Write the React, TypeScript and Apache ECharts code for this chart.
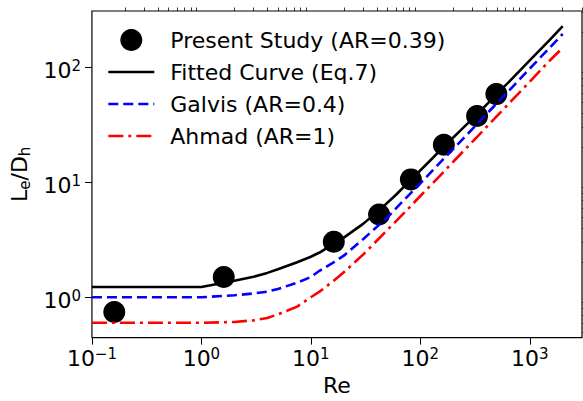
import { useEffect, useRef } from 'react';
import * as echarts from 'echarts';

// Measured entrance lengths (Present Study)
const presentRe = [0.16, 1.6, 16.2, 42, 82, 164, 330, 495];
const presentLe = [0.745, 1.5, 3.04, 5.24, 10.6, 21.2, 37.8, 58.5];

// Fitted curve (Eq.7)
const fittedRe = [0.1, 1, 1.6, 2, 3, 4, 5, 7.5, 10, 12, 16, 20, 30, 42, 60, 82, 120, 164, 250, 330, 495, 700, 1000, 1500, 2000];
const fittedLe = [1.23, 1.23, 1.34, 1.39, 1.51, 1.63, 1.75, 2.02, 2.25, 2.45, 2.9, 3.3, 4.35, 5.7, 7.8, 10.5, 15.1, 20.4, 30.2, 39, 57.8, 81, 115, 171, 228];

// Galvis correlation (AR=0.4)
const galvisRe = [0.1, 1, 2, 3, 4, 5, 7.5, 10, 12, 16, 20, 30, 50, 75, 100, 150, 200, 300, 500, 700, 1000, 1500, 2000];
const galvisLe = [1.0, 1.0, 1.04, 1.08, 1.12, 1.18, 1.34, 1.5, 1.7, 2.0, 2.3, 3.2, 4.95, 7.4, 9.8, 14.7, 19.5, 29.2, 48.7, 68, 97.5, 146, 195];

// Ahmad correlation (AR=1)
const ahmadRe = [0.1, 1, 2, 3, 4, 5, 7.5, 10, 12, 16, 20, 30, 50, 75, 100, 150, 200, 300, 500, 700, 1000, 1500, 2000];
const ahmadLe = [0.6, 0.6, 0.61, 0.63, 0.66, 0.71, 0.83, 1.0, 1.12, 1.38, 1.65, 2.35, 3.85, 5.7, 7.6, 11.3, 15.1, 22.6, 37.6, 52.6, 75, 113, 148];

// Axis ticks
const xMajorTicks = [0.1, 1, 10, 100, 1000];
const xTickExponents = ['\u22121', '0', '1', '2', '3'];
const yMajorTicks = [1, 10, 100];
const yTickExponents = ['0', '1', '2'];
const xMinorTicks = [
  0.2, 0.3, 0.4, 0.5, 0.6, 0.7, 0.8, 0.9,
  2, 3, 4, 5, 6, 7, 8, 9,
  20, 30, 40, 50, 60, 70, 80, 90,
  200, 300, 400, 500, 600, 700, 800, 900,
  2000, 3000,
];
const yMinorTicks = [
  0.5, 0.6, 0.7, 0.8, 0.9,
  2, 3, 4, 5, 6, 7, 8, 9,
  20, 30, 40, 50, 60, 70, 80, 90,
  200, 300,
];

const X_MIN = 0.1;
const X_MAX = 3000;
const Y_MIN = 0.446;
const Y_MAX = 309;

const FONT = 'DejaVu Sans';
const LINE_WIDTH = 2.6;

const zip = (xs: number[], ys: number[]) => xs.map((x, i) => [x, ys[i]]);

const powerLabel = (ticks: number[], exps: string[]) => (value: number) => {
  const i = ticks.findIndex((t) => Math.abs(Math.log10(t) - Math.log10(value)) < 1e-6);
  return i >= 0 ? `{b|10}{s|${exps[i]}}` : '';
};

// "10" with a raised exponent
const xTickRich = {
  b: { fontSize: 22, color: '#000', fontFamily: FONT },
  s: { fontSize: 15, color: '#000', fontFamily: FONT, padding: [0, 0, 8, 0] },
};
const yTickRich = {
  b: { fontSize: 22, color: '#000', fontFamily: FONT, padding: [6, 0, 0, 0] },
  s: { fontSize: 15, color: '#000', fontFamily: FONT, padding: [0, 0, 2, 0] },
};

// Legend rows: the curves show only their line sample, no marker
const lineLegendItem = (name: string) => ({
  name,
  itemStyle: { opacity: 0 },
  lineStyle: { width: LINE_WIDTH },
});

export default function App() {
  const ref = useRef<HTMLDivElement>(null);

  useEffect(() => {
    if (!ref.current) return;
    const chart = echarts.init(ref.current, undefined, { renderer: 'svg' });

    const minorAxisCommon = {
      type: 'log' as const,
      logBase: 10,
      axisLine: { show: false },
      axisLabel: { show: false },
      splitLine: { show: false },
    };

    chart.setOption({
      animation: false,
      backgroundColor: '#fff',
      textStyle: { fontFamily: FONT },
      grid: {
        left: 88,
        right: 1,
        top: 11,
        bottom: 58,
        show: true,
        borderColor: '#000',
        borderWidth: 1.2,
        backgroundColor: 'transparent',
      },
      legend: {
        orient: 'vertical',
        left: 102,
        top: 24,
        itemWidth: 46,
        itemHeight: 22,
        itemGap: 10,
        lineStyle: { width: LINE_WIDTH },
        data: [
          'Present Study (AR=0.39)',
          lineLegendItem('Fitted Curve (Eq.7)'),
          lineLegendItem('Galvis (AR=0.4)'),
          lineLegendItem('Ahmad (AR=1)'),
        ],
        textStyle: { fontSize: 22, color: '#000', fontFamily: FONT, padding: [0, 0, 0, 11] },
      },
      xAxis: [
        {
          type: 'log',
          logBase: 10,
          min: X_MIN,
          max: X_MAX,
          name: 'Re',
          nameLocation: 'middle',
          nameGap: 31,
          nameTextStyle: { fontSize: 22, color: '#000', fontFamily: FONT },
          axisLine: { show: false },
          axisTick: {
            show: true,
            inside: false,
            length: 7,
            lineStyle: { color: '#000', width: 1 },
            customValues: xMajorTicks,
          },
          axisLabel: {
            customValues: xMajorTicks,
            margin: 9,
            formatter: powerLabel(xMajorTicks, xTickExponents),
            rich: xTickRich,
          },
          splitLine: { show: false },
        },
        {
          ...minorAxisCommon,
          min: X_MIN,
          max: X_MAX,
          axisTick: {
            show: true,
            inside: false,
            length: 3.5,
            lineStyle: { color: '#000', width: 0.8 },
            customValues: xMinorTicks,
          },
        },
      ],
      yAxis: [
        {
          type: 'log',
          logBase: 10,
          min: Y_MIN,
          max: Y_MAX,
          name: '{n|L}{s|e}{n|/D}{s|h}',
          nameLocation: 'middle',
          nameGap: 52,
          nameRotate: 90,
          nameTextStyle: {
            rich: {
              n: { fontSize: 22, color: '#000', fontFamily: FONT },
              s: { fontSize: 15, color: '#000', fontFamily: FONT, padding: [12, 0, 0, 0] },
            },
          },
          axisLine: { show: false },
          axisTick: {
            show: true,
            inside: false,
            length: 7,
            lineStyle: { color: '#000', width: 1 },
            customValues: yMajorTicks,
          },
          axisLabel: {
            customValues: yMajorTicks,
            margin: 11,
            formatter: powerLabel(yMajorTicks, yTickExponents),
            rich: yTickRich,
          },
          splitLine: { show: false },
        },
        {
          ...minorAxisCommon,
          min: Y_MIN,
          max: Y_MAX,
          axisTick: {
            show: true,
            inside: false,
            length: 3.5,
            lineStyle: { color: '#000', width: 0.8 },
            customValues: yMinorTicks,
          },
        },
      ],
      series: [
        {
          name: 'Present Study (AR=0.39)',
          type: 'scatter',
          data: zip(presentRe, presentLe),
          symbol: 'circle',
          symbolSize: 22,
          itemStyle: { color: '#000', opacity: 1 },
          z: 2,
        },
        {
          name: 'Fitted Curve (Eq.7)',
          type: 'line',
          data: zip(fittedRe, fittedLe),
          symbol: 'none',
          showSymbol: false,
          lineStyle: { color: '#000', width: LINE_WIDTH },
          itemStyle: { color: '#000' },
          z: 3,
        },
        {
          name: 'Galvis (AR=0.4)',
          type: 'line',
          data: zip(galvisRe, galvisLe),
          symbol: 'none',
          showSymbol: false,
          lineStyle: { color: '#0000ff', width: LINE_WIDTH, type: [10, 5] },
          itemStyle: { color: '#0000ff' },
          z: 3,
        },
        {
          name: 'Ahmad (AR=1)',
          type: 'line',
          data: zip(ahmadRe, ahmadLe),
          symbol: 'none',
          showSymbol: false,
          lineStyle: { color: '#ff0000', width: LINE_WIDTH, type: [15, 5, 3, 5] },
          itemStyle: { color: '#ff0000' },
          z: 3,
        },
      ],
    });

    return () => chart.dispose();
  }, []);

  return (
    <div
      ref={ref}
      style={{ position: 'fixed', left: 0, top: 0, width: 583, height: 401, background: '#fff' }}
    />
  );
}
